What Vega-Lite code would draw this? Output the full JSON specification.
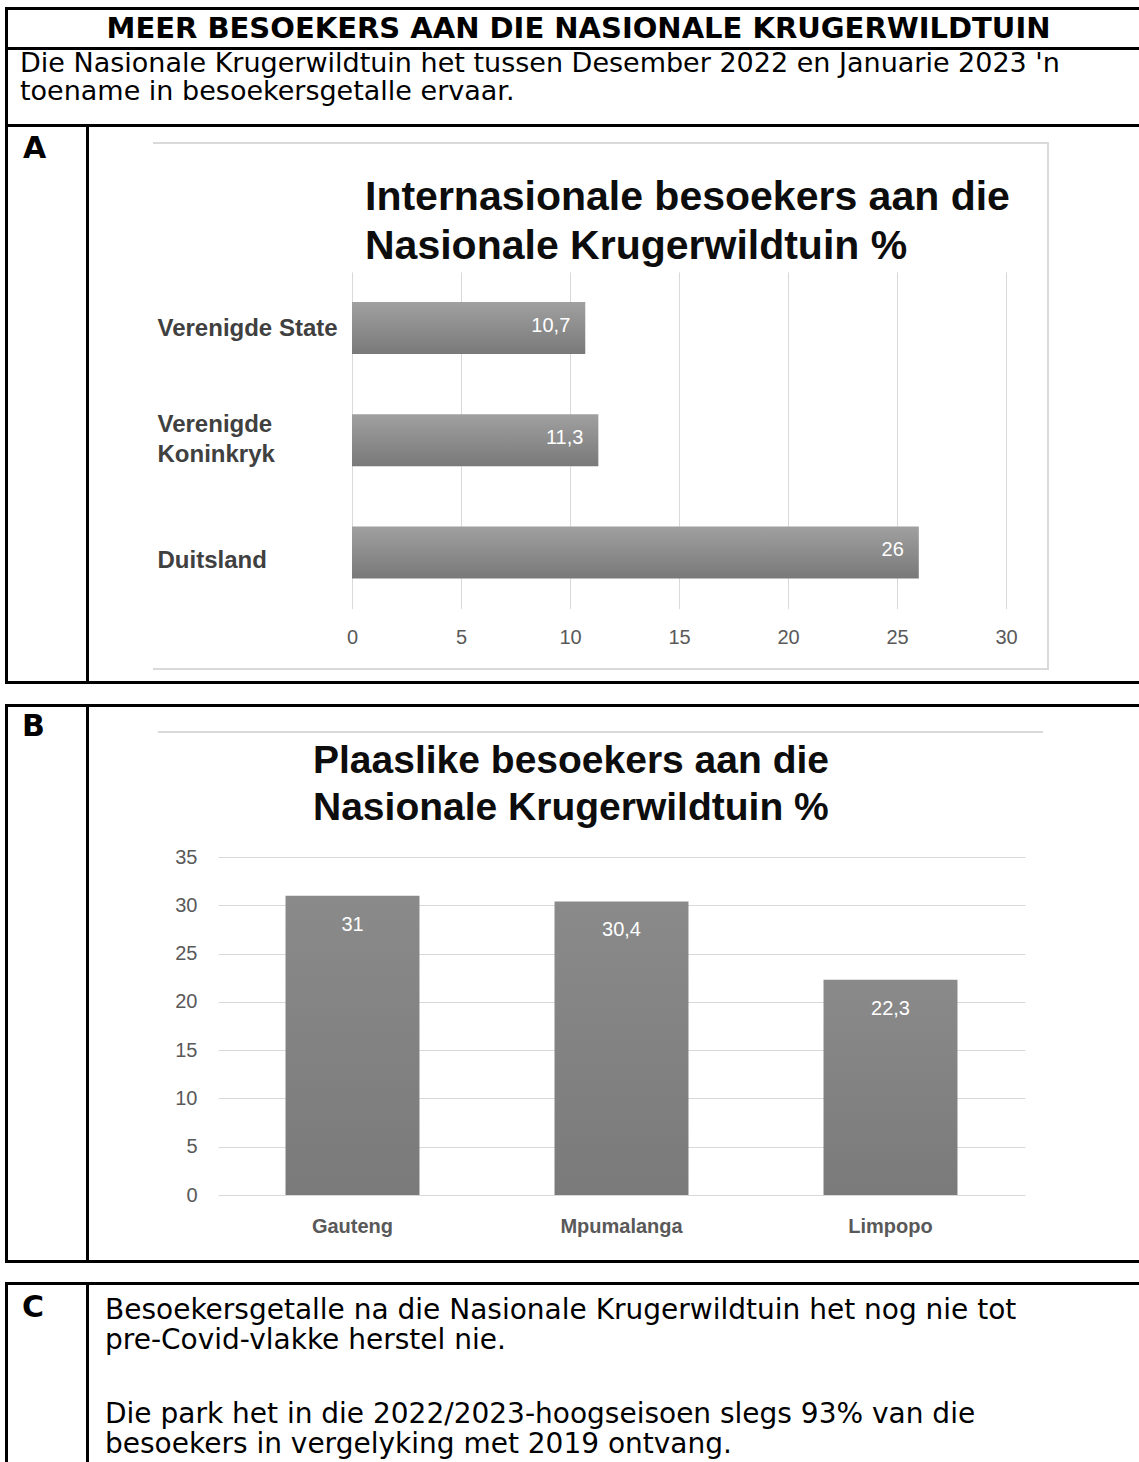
{
  "$schema": "https://vega.github.io/schema/vega-lite/v6.json",
  "background": "white",
  "padding": {"left": 5, "top": 7, "right": 0, "bottom": 0},
  "spacing": 0,
  "datasets": {
    "empty": [],
    "international": [
      {"land": "Verenigde State", "persentasie": 10.7},
      {"land": "Verenigde Koninkryk", "persentasie": 11.3},
      {"land": "Duitsland", "persentasie": 26}
    ],
    "local": [
      {"provinsie": "Gauteng", "persentasie": 31},
      {"provinsie": "Mpumalanga", "persentasie": 30.4},
      {"provinsie": "Limpopo", "persentasie": 22.3}
    ]
  },
  "vconcat": [
    {"data": {"name": "empty"}, "mark": "rect", "width": 1134, "height": 3, "view": {"fill": "#000000"}},
    {"hconcat": [
      {"data": {"name": "empty"}, "mark": "rect", "width": 3, "height": 37, "view": {"fill": "#000000"}},
      {"data": {"name": "empty"}, "mark": "rect", "width": 1131, "height": 37,
       "title": {"text": "MEER BESOEKERS AAN DIE NASIONALE KRUGERWILDTUIN", "anchor": "middle", "dx": 5, "offset": -34, "fontSize": 29, "fontWeight": "bold"}}
    ], "spacing": 0},
    {"data": {"name": "empty"}, "mark": "rect", "width": 1134, "height": 3, "view": {"fill": "#000000"}},
    {"hconcat": [
      {"data": {"name": "empty"}, "mark": "rect", "width": 3, "height": 74, "view": {"fill": "#000000"}},
      {"data": {"name": "empty"}, "mark": "rect", "width": 1131, "height": 74,
       "title": {"text": ["Die Nasionale Krugerwildtuin het tussen Desember 2022 en Januarie 2023 'n", "toename in besoekersgetalle ervaar."], "anchor": "start", "dx": 12, "offset": -56, "fontSize": 27, "fontWeight": "normal", "lineHeight": 28}}
    ], "spacing": 0},
    {"data": {"name": "empty"}, "mark": "rect", "width": 1134, "height": 3, "view": {"fill": "#000000"}},
    {"hconcat": [
      {"data": {"name": "empty"}, "mark": "rect", "width": 3, "height": 554, "view": {"fill": "#000000"}},
      {"data": {"name": "empty"}, "mark": "rect", "width": 78, "height": 554,
       "title": {"text": "A", "anchor": "start", "dx": 15, "offset": -37, "fontSize": 30, "fontWeight": "bold"}},
      {"data": {"name": "empty"}, "mark": "rect", "width": 3, "height": 554, "view": {"fill": "#000000"}},
      {"vconcat": [
        {"data": {"name": "empty"}, "mark": "rect", "width": 1050, "height": 15},
        {"hconcat": [
          {"data": {"name": "empty"}, "mark": "rect", "width": 64, "height": 2},
          {"data": {"name": "empty"}, "mark": "rect", "width": 896, "height": 2, "view": {"fill": "#d9d9d9"}}
        ], "spacing": 0},
        {"hconcat": [
          {"data": {"name": "empty"}, "mark": "rect", "width": 64, "height": 524},
          {
            "width": 894, "height": 524,
            "data": {"name": "international"},
            "title": {"text": ["Internasionale besoekers aan die", "Nasionale Krugerwildtuin %"], "anchor": "start", "dx": 212, "offset": -124, "lineHeight": 49, "font": "Liberation Sans", "fontSize": 41, "fontWeight": "bold", "color": "#0d0d0d"},
            "encoding": {
              "y": {"field": "land", "type": "nominal", "sort": null,
                "scale": {"range": [127.9, 464.6], "paddingInner": 0.535, "paddingOuter": 0.2675},
                "axis": {"orient": "left", "title": null, "offset": -4, "labelAlign": "left", "labelPadding": 0, "ticks": false, "tickSize": 0, "domain": false, "grid": false, "labelFont": "Liberation Sans", "labelFontSize": 24, "labelFontWeight": "bold", "labelColor": "#404040", "labelLimit": 0, "labelLineHeight": 30,
                  "labelOffset": {"condition": [{"test": "datum.value == 'Verenigde Koninkryk'", "value": -15}, {"test": "datum.value == 'Duitsland'", "value": 9}], "value": 1},
                  "labelExpr": "datum.label == 'Verenigde Koninkryk' ? ['Verenigde', 'Koninkryk'] : datum.label"}},
              "x": {"field": "persentasie", "type": "quantitative",
                "scale": {"domain": [0, 30], "range": [199, 853], "nice": false, "zero": true},
                "axis": {"orient": "top", "title": null, "offset": -503, "values": [0, 5, 10, 15, 20, 25, 30], "format": "d", "labelPadding": 0, "ticks": false, "tickSize": 0, "domain": false, "grid": true, "gridColor": "#d9d9d9", "gridWidth": 1, "labelFlush": false, "labelFont": "Liberation Sans", "labelFontSize": 20, "labelColor": "#595959"}}
            },
            "layer": [
              {"mark": {"type": "bar", "color": {"gradient": "linear", "x1": 0, "y1": 0, "x2": 0, "y2": 1, "stops": [{"offset": 0, "color": "#a0a0a0"}, {"offset": 1, "color": "#797979"}]}}},
              {"mark": {"type": "text", "align": "right", "baseline": "middle", "dx": -15, "dy": -2, "color": "#ffffff", "font": "Liberation Sans", "fontSize": 20},
               "encoding": {"text": {"field": "persentasie", "type": "quantitative", "format": ".1~f"}}}
            ]
          },
          {"data": {"name": "empty"}, "mark": "rect", "width": 2, "height": 524, "view": {"fill": "#d9d9d9"}}
        ], "spacing": 0},
        {"hconcat": [
          {"data": {"name": "empty"}, "mark": "rect", "width": 64, "height": 2},
          {"data": {"name": "empty"}, "mark": "rect", "width": 896, "height": 2, "view": {"fill": "#d9d9d9"}}
        ], "spacing": 0},
        {"data": {"name": "empty"}, "mark": "rect", "width": 1050, "height": 11}
      ], "spacing": 0}
    ], "spacing": 0},
    {"data": {"name": "empty"}, "mark": "rect", "width": 1134, "height": 3, "view": {"fill": "#000000"}},
    {"data": {"name": "empty"}, "mark": "rect", "width": 1134, "height": 20},
    {"data": {"name": "empty"}, "mark": "rect", "width": 1134, "height": 3, "view": {"fill": "#000000"}},
    {"hconcat": [
      {"data": {"name": "empty"}, "mark": "rect", "width": 3, "height": 553, "view": {"fill": "#000000"}},
      {"data": {"name": "empty"}, "mark": "rect", "width": 78, "height": 553,
       "title": {"text": "B", "anchor": "start", "dx": 14, "offset": -35, "fontSize": 30, "fontWeight": "bold"}},
      {"data": {"name": "empty"}, "mark": "rect", "width": 3, "height": 553, "view": {"fill": "#000000"}},
      {"vconcat": [
        {"data": {"name": "empty"}, "mark": "rect", "width": 1050, "height": 24},
        {"hconcat": [
          {"data": {"name": "empty"}, "mark": "rect", "width": 69, "height": 2},
          {"data": {"name": "empty"}, "mark": "rect", "width": 885, "height": 2, "view": {"fill": "#d9d9d9"}}
        ], "spacing": 0},
        {
          "width": 1050, "height": 527,
          "data": {"name": "local"},
          "title": {"text": ["Plaaslike besoekers aan die", "Nasionale Krugerwildtuin %"], "anchor": "start", "dx": 224, "offset": -95, "lineHeight": 47, "font": "Liberation Sans", "fontSize": 39, "fontWeight": "bold", "color": "#0d0d0d"},
          "encoding": {
            "x": {"field": "provinsie", "type": "nominal", "sort": null,
              "scale": {"range": [129, 936], "paddingInner": 0.502, "paddingOuter": 0.251},
              "axis": {"orient": "bottom", "title": null, "offset": -65, "labelPadding": 21, "labelAngle": 0, "ticks": false, "tickSize": 0, "domain": false, "grid": false, "labelFont": "Liberation Sans", "labelFontSize": 20, "labelFontWeight": "bold", "labelColor": "#595959"}},
            "y": {"field": "persentasie", "type": "quantitative",
              "scale": {"domain": [0, 35], "range": [462, 124], "nice": false, "zero": true},
              "axis": {"orient": "left", "title": null, "offset": -108, "labelPadding": 0, "values": [0, 5, 10, 15, 20, 25, 30, 35], "format": "d", "ticks": false, "tickSize": 0, "domain": false, "grid": true, "gridColor": "#d9d9d9", "gridWidth": 1, "labelFlush": false, "labelFont": "Liberation Sans", "labelFontSize": 20, "labelColor": "#595959"}}
          },
          "layer": [
            {"mark": {"type": "bar", "color": {"gradient": "linear", "x1": 0, "y1": 0, "x2": 0, "y2": 1, "stops": [{"offset": 0, "color": "#8a8a8a"}, {"offset": 1, "color": "#7a7a7a"}]}}},
            {"mark": {"type": "text", "align": "center", "baseline": "top", "dy": 19, "color": "#ffffff", "font": "Liberation Sans", "fontSize": 20},
             "encoding": {"text": {"field": "persentasie", "type": "quantitative", "format": ".1~f"}}}
          ]
        }
      ], "spacing": 0}
    ], "spacing": 0},
    {"data": {"name": "empty"}, "mark": "rect", "width": 1134, "height": 3, "view": {"fill": "#000000"}},
    {"data": {"name": "empty"}, "mark": "rect", "width": 1134, "height": 19},
    {"data": {"name": "empty"}, "mark": "rect", "width": 1134, "height": 3, "view": {"fill": "#000000"}},
    {"hconcat": [
      {"data": {"name": "empty"}, "mark": "rect", "width": 3, "height": 177, "view": {"fill": "#000000"}},
      {"data": {"name": "empty"}, "mark": "rect", "width": 78, "height": 177,
       "title": {"text": "C", "anchor": "start", "dx": 14, "offset": -38, "fontSize": 30, "fontWeight": "bold"}},
      {"data": {"name": "empty"}, "mark": "rect", "width": 3, "height": 177, "view": {"fill": "#000000"}},
      {"data": {"name": "empty"}, "mark": "rect", "width": 1050, "height": 177,
       "title": {"text": ["Besoekersgetalle na die Nasionale Krugerwildtuin het nog nie tot", "pre-Covid-vlakke herstel nie."],
         "subtitle": ["Die park het in die 2022/2023-hoogseisoen slegs 93% van die", "besoekers in vergelyking met 2019 ontvang."],
         "anchor": "start", "dx": 16, "offset": -174, "fontSize": 28, "fontWeight": "normal", "lineHeight": 30,
         "subtitleFont": "DejaVu Sans", "subtitleFontSize": 28, "subtitleFontWeight": "normal", "subtitleColor": "#000000", "subtitleLineHeight": 30, "subtitlePadding": 46}}
    ], "spacing": 0}
  ],
  "config": {
    "view": {"stroke": null},
    "concat": {"spacing": 0},
    "locale": {"number": {"decimal": ",", "thousands": " ", "grouping": [3], "currency": ["R", ""]}},
    "title": {"font": "DejaVu Sans", "color": "#000000", "baseline": "alphabetic", "frame": "group", "orient": "top"},
    "text": {"font": "Liberation Sans"}
  }
}
